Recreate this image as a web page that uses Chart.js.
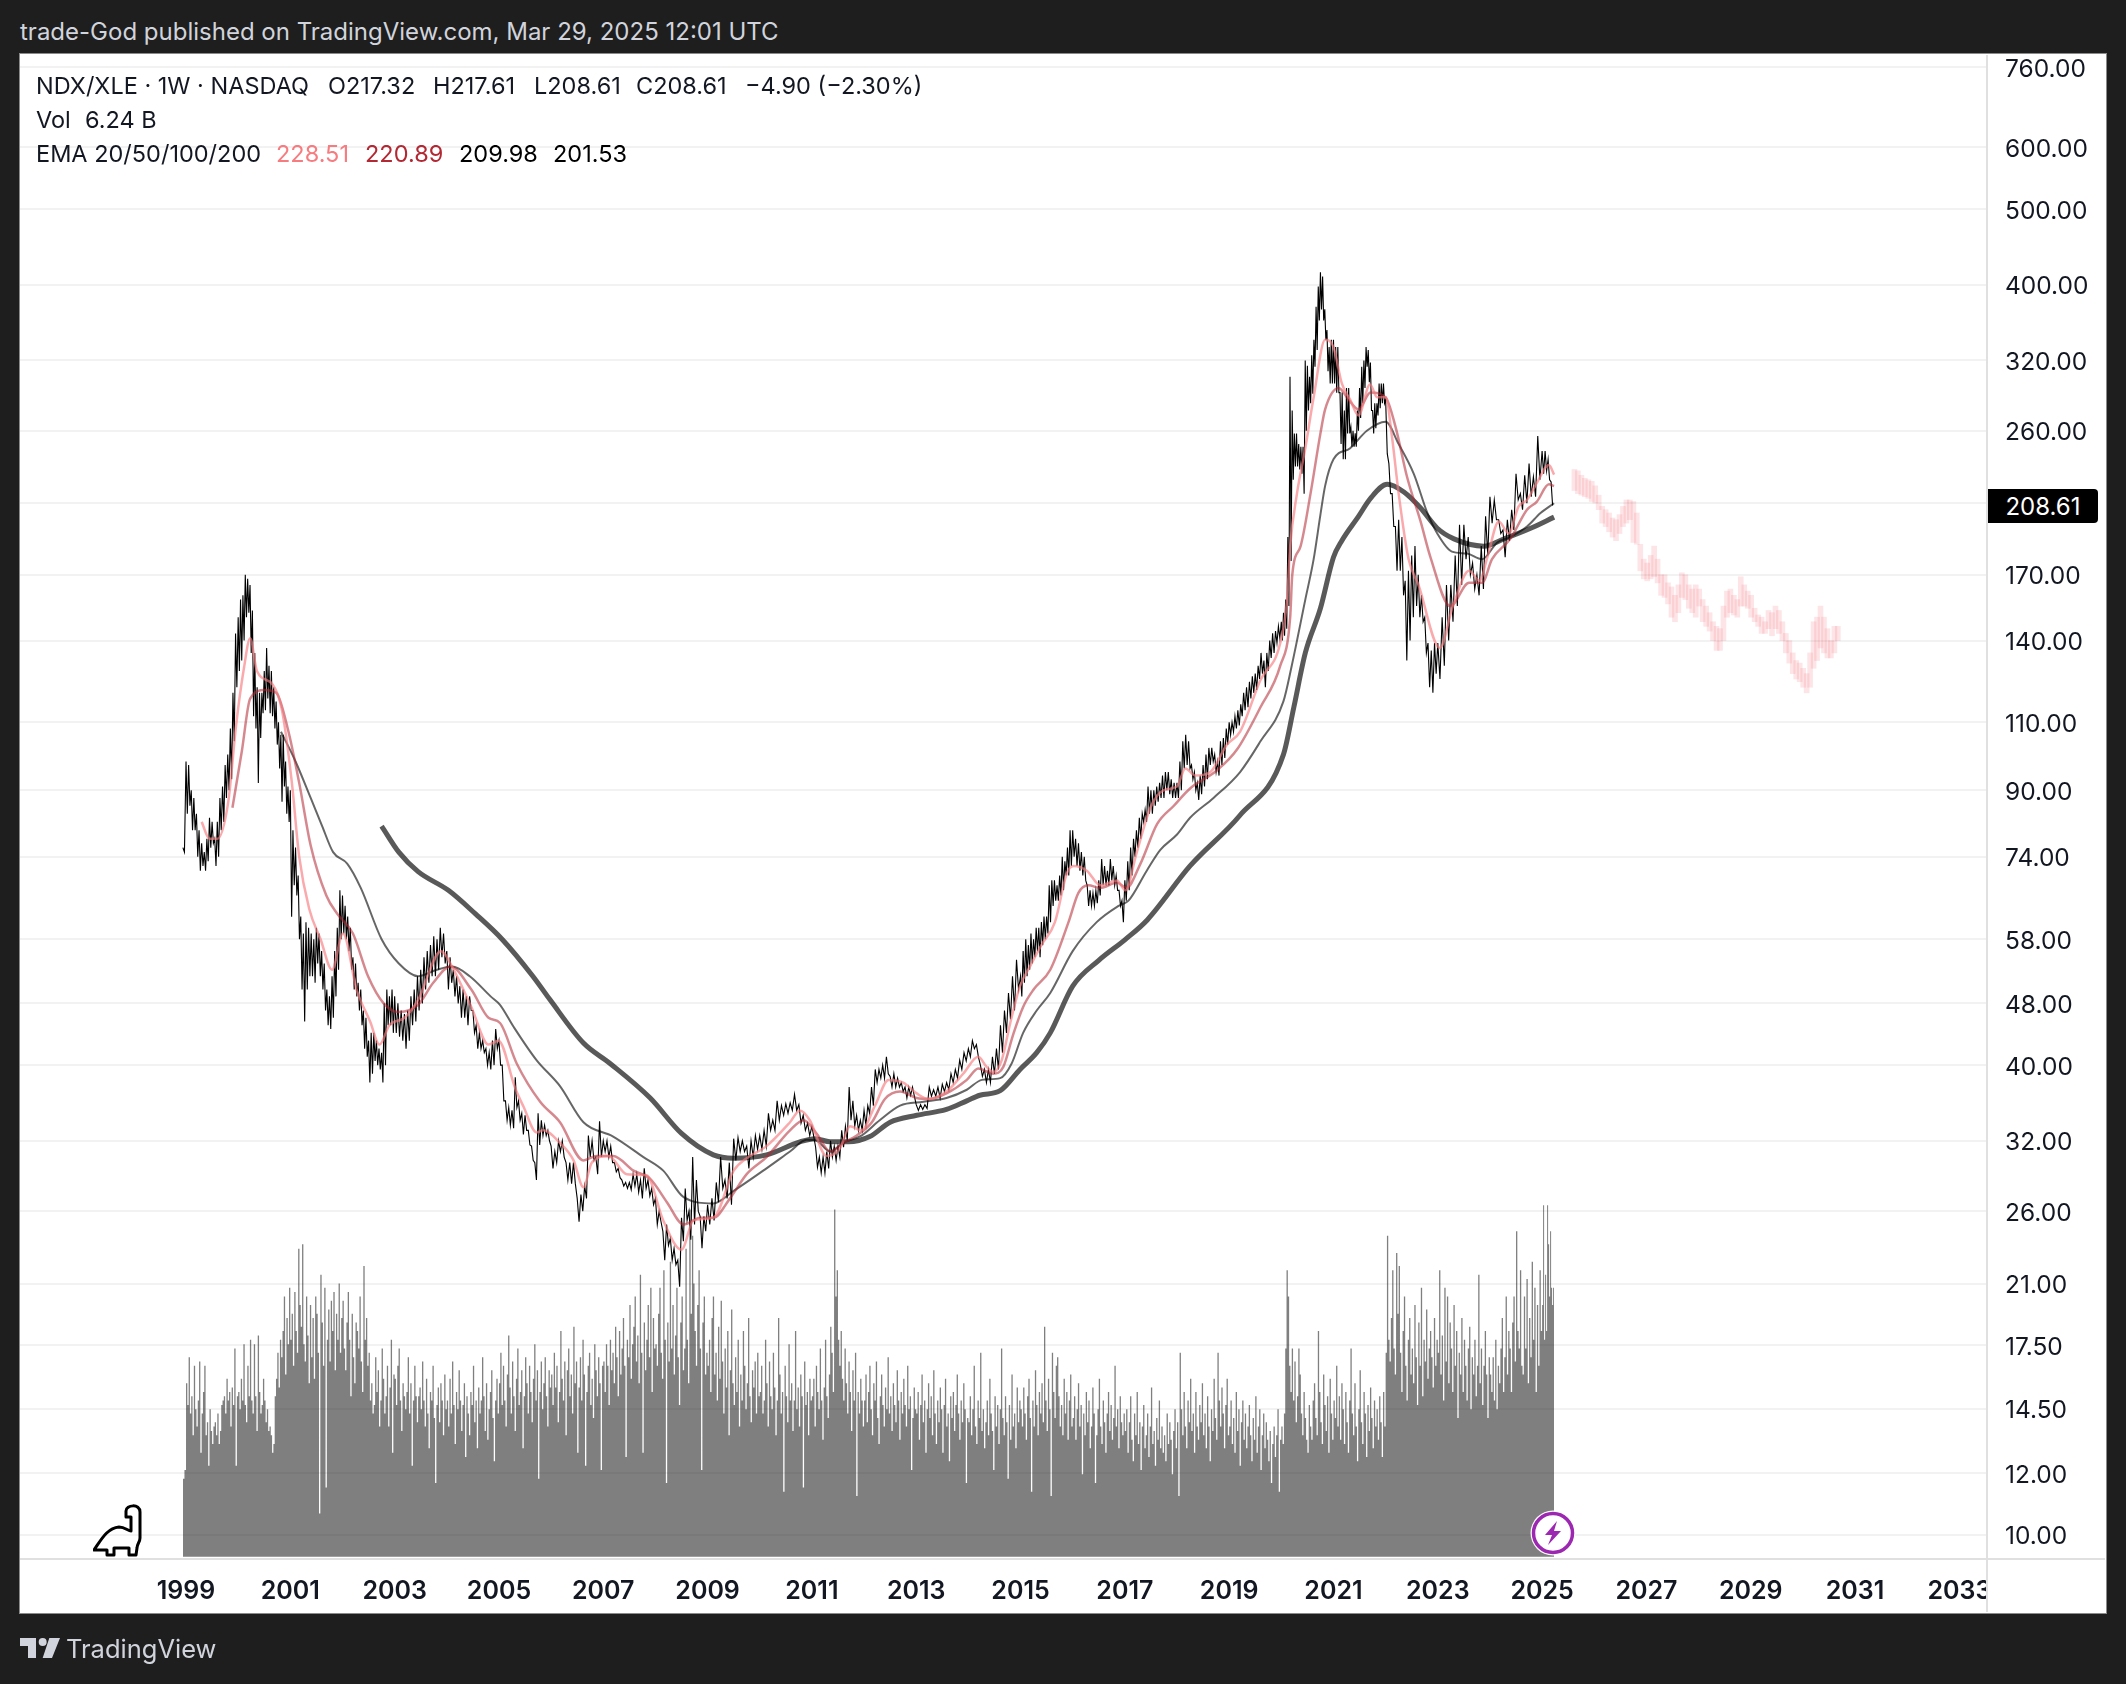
<!DOCTYPE html>
<html>
<head>
<meta charset="utf-8">
<script src="https://cdn.jsdelivr.net/npm/chart.js@4/dist/chart.umd.min.js"></script>
<style>
  html, body { margin: 0; padding: 0; background: #1e1e1e; width: 2126px; height: 1684px; overflow: hidden; }
  body { font-family: Inter, "Noto Sans", sans-serif; position: relative; }
  #panel { position: absolute; left: 19px; top: 53px; width: 2086px; height: 1559px; background: #fff; border: 1px solid #8a8a8a; }
  #plot { position: absolute; left: 0; top: 0; }
  .t { position: absolute; white-space: pre; line-height: 1; }
  .dark { color: #131722; font-size: 23.5px; }
  .foot { color: #d1d4dc; }
  .line { position: absolute; background: #e0e0e0; }
  #corner { position: absolute; left: 1988px; top: 1560px; width: 117px; height: 52px; background: #fff; }
  #lastPrice { position: absolute; left: 1988px; top: 489px; width: 110px; height: 34px; background: #000; color: #fff; font-size: 24px; line-height: 35px; text-align: center; border-radius: 0 4px 4px 0; }
  svg { position: absolute; }
</style>
</head>
<body>
<div class="t foot" style="left:20px;top:20px;font-size:24px">trade-God published on TradingView.com, Mar 29, 2025 12:01 UTC</div>
<div id="panel"></div>
<canvas id="plot" width="2126" height="1684"></canvas>
<div id="corner"></div>
<div class="line" style="left:1986px;top:55px;width:2px;height:1557px"></div>
<div class="line" style="left:20px;top:1558px;width:2085px;height:2px"></div>
<div class="t dark" style="left:36px;top:74px">NDX/XLE · 1W · NASDAQ</div>
<div class="t dark" style="left:328px;top:74px">O217.32</div>
<div class="t dark" style="left:433px;top:74px">H217.61</div>
<div class="t dark" style="left:534px;top:74px">L208.61</div>
<div class="t dark" style="left:636px;top:74px">C208.61</div>
<div class="t dark" style="left:745px;top:74px">−4.90 (−2.30%)</div>
<div class="t dark" style="left:36px;top:108px">Vol</div>
<div class="t dark" style="left:85px;top:108px">6.24 B</div>
<div class="t dark" style="left:36px;top:142px">EMA 20/50/100/200</div>
<div class="t dark" style="left:276px;top:142px;color:#f77c80">228.51</div>
<div class="t dark" style="left:365px;top:142px;color:#b22833">220.89</div>
<div class="t dark" style="left:459px;top:142px;color:#000">209.98</div>
<div class="t dark" style="left:553px;top:142px;color:#000">201.53</div>
<div id="lastPrice">208.61</div>
<svg style="left:93px;top:1504px" width="50" height="53" viewBox="0 0 50 53" fill="none" stroke="#000" stroke-width="3" stroke-linejoin="round">
  <path d="M1 46C8 36 14 24 26 23C32 23 35 27 38 27L38 13L33 13L33 7C33 1 47 -1 47 8L47 34C47 38 44 40 44 44L43 51L36 51L36 44L21 44L21 51L14 51L14 46Z"/>
</svg>
<svg style="left:1530px;top:1510px" width="46" height="46" viewBox="0 0 46 46">
  <circle cx="23" cy="23" r="22.5" fill="#fff"/>
  <circle cx="23" cy="23" r="19.5" fill="#fff" stroke="#9c27b0" stroke-width="3.5"/>
  <path d="M27 11L15 25L22 25L18 35L31 21L24 21Z" fill="#9c27b0"/>
</svg>
<svg style="left:20px;top:1638px" width="40" height="20" viewBox="2 6 30 15" fill="#d1d4dc">
  <path d="M14 6H2v6h6v9h6V6Z"/><path d="M26 21h-7l5-15h8Z"/><circle cx="19" cy="9" r="3"/>
</svg>
<div class="t foot" style="left:66px;top:1636px;font-size:25.5px">TradingView</div>
<script>
// Price pane, alternating weekly highs and lows, one list per year
const price1998 = [76, 75];
const price1999 = [98,84, 97,86, 90,80, 88,80, 84,74, 80,71, 77,72, 75,71, 78,73, 83,76, 82,77, 78,72, 82,74, 88,80, 91,82, 97,88, 100,90, 108,93, 120,104, 143,122];
const price2000 = [150,128, 158,132, 160,140, 170,150, 168,152, 165,135, 153,112, 135,108, 122,92, 120,105, 120,113, 128,114, 137,118, 130,113, 128,112, 122,108, 117,103, 110,96, 106,87, 106,91, 98,84, 91,82];
const price2001 = [90,62, 80,68, 76,66, 70,58, 62,50, 59,45.5, 61,50, 60,52, 59,52, 58,51, 60,54, 59,52, 56,50, 54,47, 50,45, 49,44.5, 52,46, 56,49, 60,53, 67,58];
const price2002 = [66,59, 64,58, 62,56, 60,53, 55,50, 54,49, 51,47, 50,45, 47,42, 46,41, 43,38, 44,39, 44,40.5, 43,40, 42,39.5, 41.5,38, 48,40, 50,45, 49,45, 50,44];
const price2003 = [49,44, 48,43.5, 47,43, 46.5,42, 47,43, 49,45, 50,45.5, 52,47, 53,48, 55,50, 56,51, 57,52, 58.5,52, 58,53, 60,55, 59,54];
const price2004 = [56,50, 55,51, 53,49, 52,48, 50.5,46, 50,46, 49,45, 49,47, 47,44, 45,42, 44,42, 43,41.5, 42,40, 41.5,39.5, 43,40, 44.5,42];
const price2005 = [43,40, 40,36, 36,34, 35.3,33.5, 35,33.2, 38.6,35.3, 36,34, 34.7,32.6, 34.5,33, 33,31.6, 31.5,30.2, 30,28.5, 34.7,31.6, 34,32.5, 33.5,32.5, 33,32];
const price2006 = [31.5,29.5, 31,30, 32,31, 32,30.5, 30,28.5, 30,28.2, 30,28.2, 27,25.2, 27.3,26, 28,27, 32.5,30.5, 32,30.2, 30.5,29, 33.9,30.5];
const price2007 = [32,31, 32,30.5, 31.5,30, 30,29.2, 29.5,28.7, 28.5,28, 28.3,27.8, 28.3,27.7, 29,28, 29,27.5, 28.5,27, 29.5,27.8, 28.5,27.2, 27.8,26.5];
const price2008 = [27,25, 26,25.2, 24.5,22.5, 25,23.5, 24,22.5, 23.3,22.2, 22.5,20.8, 25.5,23.8, 27.8,25.3, 26,23.9, 30.5,25, 28.5,26, 25.6,23.3, 25.6,24.5];
const price2009 = [26.5,25, 27,25.3, 28.3,26.7, 30.5,27.8, 28.5,27, 30,26.5, 32.2,30.2, 32.3,31, 32,31, 31.5,29.5, 32,30.5, 32.5,31.2];
const price2010 = [32.5,31.2, 33,31.5, 34.7,33, 34,33, 36,34, 35.5,34.5, 35.7,34.7, 35.8,35, 36.7,35, 35.6,33.7, 34.5,33, 33.7,32.5];
const price2011 = [33.4,32.4, 31.4,29.6, 30.5,29.1, 30.5,29.1, 31,29.5, 32,30.5, 31.5,30.2, 31.5,30.5, 33,31.4, 33.4,32, 37.5,34, 36,33.4, 34.5,33, 34,33];
const price2012 = [35,33.5, 35.5,34.7, 37.5,35.5, 39.5,38, 39.5,38.5, 40,38.5, 41,39, 38.7,37.5, 39,37.5, 38.5,37.5, 38,37, 37.5,36.3, 37.5,36.6, 37.5,36.5];
const price2013 = [35.6,35, 35.6,35.1, 35.6,35.2, 37.5,36.5, 37.2,36.5, 37.5,36.3, 37.8,37, 38,37.2, 39,38, 39.5,38.5, 40.6,39.5, 41.5,40.5];
const price2014 = [42,41, 43,42, 42.5,41, 40,38.7, 39.5,38, 39.5,38, 41,39, 42,39.5, 45,41.5, 47,44, 49.5,45.8, 52,47, 54.6,50];
const price2015 = [52,49, 56,51, 58,52, 57,53, 59,54, 58,55, 60,56, 60,55, 61,57, 62,58, 62,59, 68,61, 69,64, 69,65, 68,65, 70,66, 74,67, 73,70, 76,70, 80,72];
const price2016 = [80,74, 78,72, 77,71, 75,70, 74,69, 68,64, 67,64, 66.5,64, 67,64.5, 69,66, 73.5,68, 72,68, 71,68, 73.5,69, 72,68, 70,67, 67,64, 65,61];
const price2017 = [69,65, 73,67, 76,70, 78,74, 80,76, 83,78, 84,82, 85,82, 91,84, 90,84, 90,86, 91,87, 92,88, 94,88, 95,90, 95,89, 93,88, 92,88];
const price2018 = [92,88, 98,90, 104,96, 106,97, 104,96, 97,93, 95,90, 92,87.5, 94,89, 97,91, 100,93, 102,97, 102,98, 100,95, 98,94, 104,97, 105,99, 108,103];
const price2019 = [110,106, 110,107, 112,108, 114,109, 116,112, 120,114, 122,115, 124,118, 126,120, 127,121, 130,125, 135,127, 132,122, 135,128, 140,133, 143,135, 144,139, 146,141];
const price2020 = [148,140, 152,142, 158,145, 190,155, 305,177, 276,225, 258,234, 258,234, 250,232, 248,229, 248,216, 320,260, 315,276, 305,282, 325,290, 340,314, 375,330, 398,360, 415,372, 410,360, 372,340, 350,310, 333,299, 340,299];
const price2021 = [340,299, 333,291, 333,291, 291,250, 291,239, 276,239, 295,258, 295,258, 263,248, 260,248, 258,248, 276,260, 295,270, 314,282, 320,295, 333,314, 330,300, 318,276, 276,258, 282,262, 282,272, 299,278, 299,282, 299,282];
const price2022 = [285,243, 236,216, 216,196, 196,172, 200,172, 190,160, 167,132, 172,140, 180,150, 185,155, 170,150, 160,148, 150,135, 139,122, 136,120, 139,127];
const price2023 = [139,125, 150,130, 165,140, 165,148, 180,155, 197,165, 197,178, 190,170, 176,163, 170,160, 185,163, 202,180];
const price2024 = [214,198, 212,200, 200,192, 194,179, 200,188, 206,194, 229,212, 216,206, 228,210, 236,214, 227,214, 256,225];
const price2025 = [245,229, 245,231, 239,225, 223.5,208.61];

// Moving averages, read at the turning points of each curve
const ema20Years = [1999.3,1999.45,1999.6,1999.81,1999.96,2000.11,2000.23,2000.36,2000.66,2000.84,2001.03,2001.17,2001.36,2001.58,2001.8,2002.01,2002.27,2002.53,2002.71,2002.9,2003.19,2003.45,2003.89,2004.1,2004.47,2004.8,2004.99,2005.31,2005.47,2005.72,2005.85,2006.17,2006.43,2006.62,2006.78,2007.1,2007.45,2007.83,2008.15,2008.5,2008.73,2009.11,2009.5,2009.75,2010.13,2010.58,2010.77,2010.96,2011.28,2011.54,2011.73,2011.95,2012.21,2012.47,2012.75,2013.01,2013.23,2013.58,2013.9,2014.19,2014.35,2014.48,2014.64,2014.8,2014.99,2015.18,2015.4,2015.66,2015.89,2016.02,2016.27,2016.53,2016.85,2017.01,2017.23,2017.49,2017.74,2018,2018.16,2018.35,2018.64,2018.96,2019.21,2019.6,2019.98,2020.11,2020.17,2020.3,2020.46,2020.62,2020.84,2021,2021.16,2021.32,2021.48,2021.7,2021.84,2022,2022.12,2022.25,2022.44,2022.63,2023.04,2023.29,2023.6,2023.8,2023.95,2024.17,2024.36,2024.55,2024.71,2024.9,2025.13,2025.23];
const ema20Values = [82,78,78,87,109,129,141,128,123,114,92,74,63.5,58,53,59,50,45.5,42.5,45,46,48.5,56,53.5,47.5,42.5,43,37.4,35.4,32.8,33,31.8,30.2,27.9,30,30.6,29,28.9,25.3,23.2,25.3,25.5,29.3,30.4,31.5,33.8,35,34,30.6,31.3,33.4,33,35.5,38.3,38,36.8,36.2,37,39,41,39.8,39.2,40.6,45.2,50.5,53.5,57,61,70.5,72,71,68,69,67,75,85.5,90,91,96,94,95,103,107,124.6,139,158,185,216,247,287,340,333,299,285,272,298,287,287,256,216,178,165,137,155,172,167,179,199,192,208,212,223,235,228.51];
const ema50Years = [1999.89,2000.07,2000.23,2000.51,2000.73,2000.95,2001.17,2001.39,2001.69,2001.9,2002.2,2002.49,2002.79,2003.08,2003.45,2003.74,2004.07,2004.47,2004.8,2005.02,2005.34,2005.79,2006.17,2006.62,2006.87,2007.19,2007.58,2007.9,2008.22,2008.54,2008.86,2009.11,2009.43,2009.75,2010.13,2010.58,2010.84,2011.09,2011.35,2011.6,2011.86,2012.15,2012.4,2012.69,2013.01,2013.26,2013.58,2013.97,2014.19,2014.48,2014.67,2014.86,2015.05,2015.25,2015.57,2015.92,2016.11,2016.3,2016.53,2016.85,2017.03,2017.3,2017.62,2017.94,2018.25,2018.77,2019.15,2019.6,2019.98,2020.17,2020.21,2020.37,2020.56,2020.75,2020.84,2021.1,2021.29,2021.48,2021.71,2022,2022.19,2022.41,2022.67,2022.86,2023.24,2023.6,2023.85,2024.04,2024.39,2024.71,2024.9,2025.13,2025.23];
const ema50Values = [85.5,101,118,121,120,108,92,76.5,66,62.5,59,52,48,46.8,47.8,51,53.5,50,46,45.3,40.2,35.9,33.8,30.2,30.6,30.6,29.3,28.6,26.7,25,25.5,25.5,27,29,30.5,33,34,32.7,31,31.8,32.5,33.8,36.2,37,36.3,36.2,36.8,38.3,39.6,39,39.8,43.8,47.5,50,53,61,66.5,68,67.5,68.5,67.5,72.5,81.5,86,90.5,95.5,101.5,115,130,150,170,185,216,258,277,295,285,277,291,287,263,227,199,179,155,166,166,178,189,206,211,222,220.89];
const ema100Years = [2000.82,2001.1,2001.39,2001.61,2001.82,2002.09,2002.35,2002.75,2003.08,2003.45,2003.81,2004.1,2004.44,2004.84,2005.02,2005.28,2005.72,2006.17,2006.62,2007.19,2007.77,2008.15,2008.54,2009.11,2009.5,2010.13,2010.58,2010.9,2011.09,2011.35,2011.6,2011.95,2012.3,2012.69,2013.14,2013.58,2013.97,2014.26,2014.61,2014.83,2015.05,2015.31,2015.57,2016,2016.46,2016.88,2017.07,2017.42,2017.68,2018,2018.25,2018.7,2019.21,2019.6,2020.04,2020.2,2020.46,2020.62,2020.75,2020.84,2021,2021.32,2021.64,2022,2022.25,2022.54,2022.8,2022.99,2023.27,2023.56,2023.85,2024.14,2024.39,2024.71,2024.97,2025.23];
const ema100Values = [107,98,88,81,75,72.5,67.5,58,54,52,53,53.5,52,49,47.8,44.8,40.6,37.6,33.8,32.4,30.5,29.3,27.1,26.6,27.6,29.5,31,32.1,32,31,31.8,32.5,34,35.5,35.9,36.3,37.2,38.3,38.5,40.2,44,47,49.5,56,61,64,65,71,75.5,79,83,88,95,104,117,130,158,178,203,221,239,247,260,267,250,229,204,192,182,181,178,187,190,196,204,209.98];
const ema200Years = [2002.75,2003.08,2003.45,2004.03,2004.55,2005.06,2005.65,2005.98,2006.62,2007.13,2007.9,2008.5,2009.11,2009.5,2010.13,2010.77,2011.06,2011.35,2011.7,2012.11,2012.5,2013.01,2013.58,2013.97,2014.22,2014.61,2014.99,2015.31,2015.57,2016,2016.5,2017,2017.43,2018.25,2019.2,2020.04,2020.24,2020.46,2020.75,2021,2021.16,2021.48,2021.71,2022.03,2022.35,2022.67,2022.99,2023.31,2023.88,2024.27,2024.78,2025.23];
const ema200Values = [81,75,70.8,67,62.5,58,52,48.5,42.7,40.2,36.3,32.7,30.7,30.4,30.7,31.9,32.2,31.9,31.9,32.4,33.8,34.5,35.1,36,36.6,37.1,39.5,41.5,44,50.5,54.5,57.9,61.4,72,83.5,100,115,135,154,179,188,202,213,222,217,207,195,189,185,189,195,201.53];

// Faded projection drawn after the last bar
const forecastHigh = [232,231,228,226,225,224,221,215,208,206,204,201,200,203,208,212,212,211,204,186,178,176,180,185,178,170,170,166,164,160,165,171,170,165,163,165,163,158,155,152,148,146,145,155,162,163,160,158,169,165,162,160,154,151,150,148,153,152,155,153,148,143,140,135,132,131,129,127,135,148,150,155,150,145,140,146,146];
const forecastLow = [218,216,215,214,213,211,210,206,198,196,193,190,188,192,196,198,200,187,186,172,168,167,168,169,166,160,159,156,150,148,152,159,158,154,152,150,155,148,146,144,140,136,136,140,150,152,151,150,155,155,154,150,148,146,143,143,145,142,145,143,140,135,131,127,125,124,122,120,122,129,132,137,135,133,133,135,140];

// Volume in hundreds of millions
const vol1998 = [18, 20];
const vol1999 = [40,35,46,33,37,28,44,34,30,36,45,24,33,38,44,28,31,21,34,29,26,30,31,28,33,26,29,35,36,37,33,41,36,38,30,39,35,48,21,37];
const vol2000 = [38,34,41,36,49,35,31,44,37,50,36,33,49,37,29,51,38,33,35,41,36,31,34,29,30,28,24,26,37,41,47,39,50,46,52,60,42,55,49,62];
const vol2001 = [50,56,44,61,52,47,71,58,53,72,49,45,60,51,40,58,46,55,41,60,56,47,10,65,54,44,62,16,50,57,45,59,52,61,43,56,50,63,47,55];
const vol2002 = [59,48,43,54,61,50,37,56,46,40,54,52,48,60,45,38,67,50,55,44,47,36,40,33,35,46,38,43,30,36,48,41,33,37,44,30,39,50,24,42];
const vol2003 = [41,35,44,48,36,29,40,37,34,38,46,33,40,21,36,44,37,31,37,39,34,45,36,30,41,33,25,38,36,44,32,17,35,39,31,40,36,28,42,34];
const vol2004 = [36,30,41,33,45,35,26,38,34,43,36,29,35,40,23,37,33,28,38,35,44,31,36,25,39,33,36,46,37,29,40,27,34,38,43,32,22,36,41,33];
const vol2005 = [40,47,35,44,36,30,42,51,39,33,45,37,29,41,48,35,38,43,25,37,46,40,33,44,38,31,41,49,36,43,18,38,45,34,40,46,37,30,43,39];
const vol2006 = [42,35,47,39,44,31,38,52,41,36,45,28,43,48,37,42,33,53,40,45,24,39,46,36,50,42,21,38,44,47,35,41,32,49,43,37,46,40,20,44];
const vol2007 = [45,38,49,44,35,50,43,47,40,53,46,37,52,42,48,55,44,23,50,46,58,41,49,53,60,45,51,40,65,47,24,54,43,50,58,46,62,38,55,48];
const vol2008 = [49,44,56,62,47,41,66,50,17,54,45,68,48,58,42,51,62,46,35,54,60,43,48,71,50,40,80,56,74,63,52,44,58,66,48,20,54,60,42,47];
const vol2009 = [44,50,38,55,60,42,47,36,53,41,59,45,33,48,39,52,28,43,57,40,35,46,38,50,30,42,36,52,44,34,40,55,37,31,43,39,45,33,47,37];
const vol2010 = [38,44,33,36,50,40,30,45,37,34,47,39,28,36,55,42,33,38,15,44,37,31,49,36,40,29,36,52,34,39,30,42,37,16,45,35,38,28,41,36];
const vol2011 = [37,41,30,44,38,34,48,36,27,39,50,37,32,42,53,47,38,80,60,66,50,44,52,41,36,48,40,33,45,38,29,43,36,47,14,38,33,41,36,30];
const vol2012 = [36,42,31,38,44,34,28,40,36,45,32,26,37,42,35,30,39,34,46,33,37,29,40,35,31,43,36,27,38,33,41,35,30,44,34,37,20,32,39,34];
const vol2013 = [33,38,27,35,42,31,36,24,34,40,32,37,28,43,33,26,36,31,39,34,24,35,41,30,33,22,37,32,38,29,35,42,33,27,36,31,40,34,17,32];
const vol2014 = [31,37,28,34,44,30,26,36,32,47,29,34,25,31,36,28,41,33,29,20,37,30,35,26,34,48,32,28,37,31,18,35,27,42,30,33,25,39,31,36];
const vol2015 = [34,30,39,33,27,37,41,32,15,36,30,43,35,28,38,33,40,31,53,36,29,41,34,14,47,38,32,44,46,37,30,35,28,41,33,38,27,36,42,30];
const vol2016 = [32,37,27,34,40,30,35,19,33,28,38,31,36,25,30,39,33,17,28,34,41,30,26,36,31,24,33,38,29,35,27,32,44,30,34,25,37,31,28,33];
const vol2017 = [29,34,24,31,37,27,22,33,28,38,26,31,20,30,35,25,28,33,23,30,39,26,29,21,32,27,36,25,30,24,28,22,33,26,31,27,19,29,34,25];
const vol2018 = [31,14,47,34,28,38,30,25,36,31,41,29,33,24,38,30,27,35,31,40,28,33,25,37,30,22,34,29,41,32,27,47,36,30,39,33,25,35,41,28];
const vol2019 = [30,36,26,32,24,38,29,34,21,31,36,27,33,25,30,35,28,22,32,27,37,24,30,34,20,28,33,25,31,27,22,29,17,26,30,23,28,34,15,27];
const vol2020 = [30,26,33,48,66,60,44,38,48,36,45,31,37,48,42,33,28,38,32,27,24,35,30,27,36,40,32,28,52,38,31,26,42,35,29,37,24,41,33,27];
const vol2021 = [36,32,44,30,37,27,40,34,26,38,31,24,36,48,33,28,40,30,22,34,43,31,26,38,33,23,35,29,39,32,25,36,30,34,27,37,31,23,38,30];
const vol2022 = [47,74,50,45,55,66,48,42,70,56,67,47,38,52,60,44,36,50,55,42,48,40,58,46,35,54,44,62,37,50,45,57,41,48,52,46,39,55,44,50];
const vol2023 = [47,66,42,51,36,62,45,60,40,54,48,38,58,44,52,32,47,42,55,38,50,44,36,48,53,34,46,42,50,37,44,65,40,48,35,44,52,42,32,46];
const vol2024 = [42,38,46,36,50,34,44,40,48,55,38,46,60,42,52,48,38,54,60,45,75,52,48,66,44,42,60,48,64,40,55,46,68,50,62,38,58,44,66,52];
const vol2025 = [58,81,50,65,52,81,72,60,75,62,58,62];

const yearLabels = [1999,2001,2003,2005,2007,2009,2011,2013,2015,2017,2019,2021,2023,2025,2027,2029,2031,2033];
const priceTicks = [760,600,500,400,320,260,210,170,140,110,90,74,58,48,40,32,26,21,17.5,14.5,12,10];

const priceYears = [price1999,price2000,price2001,price2002,price2003,price2004,price2005,price2006,price2007,price2008,price2009,price2010,price2011,price2012,price2013,price2014,price2015,price2016,price2017,price2018,price2019,price2020,price2021,price2022,price2023,price2024];
const volYears = [vol1999,vol2000,vol2001,vol2002,vol2003,vol2004,vol2005,vol2006,vol2007,vol2008,vol2009,vol2010,vol2011,vol2012,vol2013,vol2014,vol2015,vol2016,vol2017,vol2018,vol2019,vol2020,vol2021,vol2022,vol2023,vol2024];

// Spread one list of readings evenly over its stretch of the time axis
function spread(values, start, span) {
    return values.map((v, i) => ({ x: start + span * i / values.length, y: v }));
}
function zip(years, values) {
    return years.map((x, i) => ({ x, y: values[i] }));
}

const pricePoints = spread(price1998, 1998.94, 0.06)
    .concat(priceYears.flatMap((list, i) => spread(list, 1999 + i, 1)))
    .concat(spread(price2025, 2025, 0.23));
const volPoints = spread(vol1998, 1998.94, 0.06)
    .concat(volYears.flatMap((list, i) => spread(list, 1999 + i, 1)))
    .concat(spread(vol2025, 2025, 0.23));
volPoints.push({ x: 2025.23, y: vol2025[vol2025.length - 1] });
const forecastBars = forecastHigh.map((hi, i) => ({
    x: 2025.62 + i * (2030.67 - 2025.62) / (forecastHigh.length - 1),
    y: [forecastLow[i], hi]
}));

function emaDataset(label, years, values, color, width, order) {
    return {
        type: 'line', label, data: zip(years, values), yAxisID: 'y',
        borderColor: color, borderWidth: width, pointRadius: 0,
        cubicInterpolationMode: 'monotone', order
    };
}

new Chart(document.getElementById('plot').getContext('2d'), {
    type: 'line',
    data: {
        datasets: [
            { type: 'line', label: 'Vol', data: volPoints, yAxisID: 'yVol', stepped: 'before',
              borderWidth: 0, borderColor: 'rgba(0,0,0,0)', backgroundColor: 'rgba(0,0,0,0.5)', fill: 'origin', pointRadius: 0, order: 7 },
            { type: 'bar', label: 'Projection', data: forecastBars, yAxisID: 'y',
              backgroundColor: 'rgba(242,54,69,0.13)', barThickness: 5, order: 6 },
            { type: 'line', label: 'NDX/XLE', data: pricePoints, yAxisID: 'y',
              borderColor: '#000', borderWidth: 1.1, pointRadius: 0, order: 5 },
            emaDataset('EMA 200', ema200Years, ema200Values, 'rgba(0,0,0,0.65)', 5, 4),
            emaDataset('EMA 100', ema100Years, ema100Values, 'rgba(0,0,0,0.6)', 2, 3),
            emaDataset('EMA 50', ema50Years, ema50Values, 'rgba(178,40,51,0.55)', 2.5, 2),
            emaDataset('EMA 20', ema20Years, ema20Values, 'rgba(247,124,128,0.65)', 2.5, 1)
        ]
    },
    options: {
        responsive: false,
        devicePixelRatio: 1,
        animation: false,
        layout: { padding: { left: 20, right: 20, top: 55, bottom: 71 } },
        plugins: { legend: { display: false }, tooltip: { enabled: false } },
        scales: {
            x: {
                type: 'linear', offset: false,
                min: 1995.817, max: 2033.53,
                grid: { display: false, offset: false },
                border: { display: false },
                afterBuildTicks: scale => { scale.ticks = yearLabels.map(value => ({ value })); },
                afterFit: scale => { scale.height = 54; },
                ticks: {
                    autoSkip: false, maxRotation: 0, padding: 9, color: '#131722',
                    font: { family: 'Inter', size: 25, weight: '600' },
                    callback: value => String(value)
                }
            },
            y: {
                type: 'logarithmic', position: 'right',
                min: 9.316, max: 788,
                grid: { color: '#f2f2f2', lineWidth: 2, drawTicks: false },
                border: { display: false },
                afterBuildTicks: scale => { scale.ticks = priceTicks.map(value => ({ value })); },
                afterFit: scale => { scale.width = 119; },
                ticks: {
                    autoSkip: false, padding: 18, labelOffset: 2, color: '#131722',
                    font: { family: 'Inter', size: 24.5 },
                    callback: value => value === 210 ? '' : value.toFixed(2)
                }
            },
            yVol: { type: 'linear', display: false, min: -0.5, max: 346 }
        }
    }
});
</script>
</body>
</html>
